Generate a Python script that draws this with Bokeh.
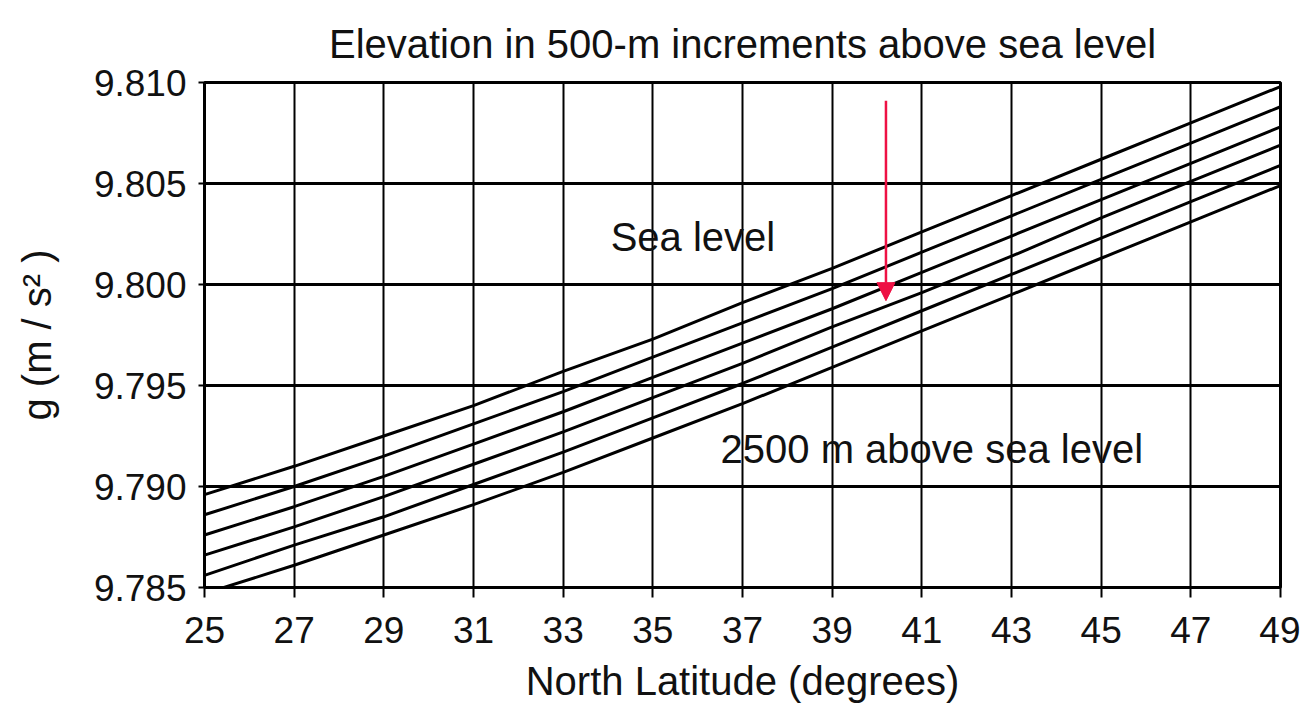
from bokeh.plotting import figure
from bokeh.models import FixedTicker, PrintfTickFormatter, Range1d, Arrow, NormalHead, Label
from bokeh.embed import file_html
from bokeh.resources import INLINE

# Data
latitude = [25, 27, 29, 31, 33, 35, 37, 39, 41, 43, 45, 47, 49]
g_sea = [9.7896, 9.7910, 9.7925, 9.7940, 9.7957, 9.7973, 9.7991, 9.8008, 9.8026, 9.8044, 9.8062, 9.8080, 9.8098]
g_500 = [9.7886, 9.7900, 9.7915, 9.7931, 9.7947, 9.7964, 9.7981, 9.7998, 9.8016, 9.8034, 9.8052, 9.8070, 9.8088]
g_1000 = [9.7876, 9.7890, 9.7905, 9.7921, 9.7937, 9.7954, 9.7971, 9.7988, 9.8006, 9.8024, 9.8042, 9.8060, 9.8078]
g_1500 = [9.7866, 9.7880, 9.7895, 9.7911, 9.7927, 9.7944, 9.7961, 9.7979, 9.7996, 9.8014, 9.8033, 9.8051, 9.8069]
g_2000 = [9.7856, 9.7871, 9.7885, 9.7901, 9.7917, 9.7934, 9.7951, 9.7969, 9.7987, 9.8005, 9.8023, 9.8041, 9.8059]
g_2500 = [9.7847, 9.7861, 9.7876, 9.7891, 9.7907, 9.7924, 9.7941, 9.7959, 9.7977, 9.7995, 9.8013, 9.8031, 9.8049]
series = [g_sea, g_500, g_1000, g_1500, g_2000, g_2500]

x_ticks = [25, 27, 29, 31, 33, 35, 37, 39, 41, 43, 45, 47, 49]
y_ticks = [9.785, 9.790, 9.795, 9.800, 9.805, 9.810]

title_text = "Elevation in 500-m increments above sea level"
x_label = "North Latitude (degrees)"
y_label = "g (m / s\u00b2 )"
label_top = "Sea level"
label_bottom = "2500 m above sea level"
arrow_x = 40.2
arrow_y_start = 9.8091
arrow_y_end = 9.7992

FONT = "Liberation Sans"

p = figure(width=1300, height=707, output_backend="svg", toolbar_location=None,
           x_range=Range1d(25, 49), y_range=Range1d(9.785, 9.810),
           min_border_left=204, min_border_right=20, min_border_top=82, min_border_bottom=120)

p.title.text = title_text
p.title.align = "center"
p.title.text_font = FONT
p.title.text_font_size = "40px"
p.title.text_font_style = "normal"
p.title.text_color = "#111111"
p.title.standoff = 34

p.background_fill_color = "white"
p.border_fill_color = "white"
p.outline_line_color = "black"
p.outline_line_width = 3

for ax in (p.xaxis[0], p.yaxis[0]):
    ax.axis_line_color = None
    ax.major_tick_line_color = "black"
    ax.major_tick_line_width = 2
    ax.minor_tick_line_color = None
    ax.major_tick_in = 0
    ax.major_label_text_font = FONT
    ax.major_label_text_font_size = "37px"
    ax.major_label_text_color = "#111111"
    ax.axis_label_text_font = FONT
    ax.axis_label_text_font_size = "40px"
    ax.axis_label_text_font_style = "normal"
    ax.axis_label_text_color = "#111111"

p.xaxis.ticker = FixedTicker(ticks=x_ticks)
p.yaxis.ticker = FixedTicker(ticks=y_ticks)
p.yaxis.formatter = PrintfTickFormatter(format="%.3f")
p.xaxis.major_tick_out = 10
p.xaxis.major_label_standoff = 19
p.yaxis.major_tick_out = 6
p.yaxis.major_label_standoff = 12
p.xaxis.axis_label = x_label
p.yaxis.axis_label = y_label
p.xaxis.axis_label_standoff = 13
p.yaxis.axis_label_standoff = 32

p.xgrid.ticker = FixedTicker(ticks=x_ticks)
p.ygrid.ticker = FixedTicker(ticks=y_ticks)
p.xgrid.grid_line_color = "black"
p.xgrid.grid_line_width = 2
p.ygrid.grid_line_color = "black"
p.ygrid.grid_line_width = 3

for s in series:
    p.line(latitude, s, line_color="black", line_width=3)

p.add_layout(Label(x=34.06, y=9.80235, text=label_top, text_font=FONT,
                   text_font_size="40px", text_baseline="middle", text_align="left",
                   text_color="#111111"))
p.add_layout(Label(x=36.51, y=9.79186, text=label_bottom, text_font=FONT,
                   text_font_size="40px", text_baseline="middle", text_align="left",
                   text_color="#111111"))

p.add_layout(Arrow(x_start=arrow_x, y_start=arrow_y_start, x_end=arrow_x, y_end=arrow_y_end,
                   line_color="#ee1144", line_width=2.5,
                   end=NormalHead(size=18, fill_color="#ee1144", line_color="#ee1144")))

open("out.html", "w").write(file_html(p, INLINE))
